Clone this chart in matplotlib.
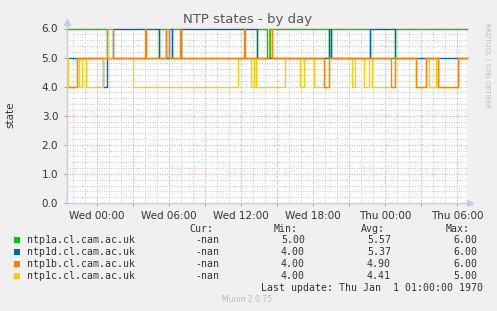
import matplotlib
matplotlib.use('Agg')
# Import matplotlib for plotting
import matplotlib.pyplot as plt
# Import Line2D / Rectangle for the hand drawn axis arrows and legend squares
from matplotlib.lines import Line2D
from matplotlib.patches import Rectangle

# Time axis in hours relative to Wed 00:00
t_start = -2.55
t_end = 30.8
tick_hours = [0, 6, 12, 18, 24, 30]
tick_labels = ['Wed 00:00', 'Wed 06:00', 'Wed 12:00', 'Wed 18:00', 'Thu 00:00', 'Thu 06:00']

# Step series: each value holds from its time until the next time
green_t = [-2.55, 0.81, 5.17, 5.75, 6.25, 6.96, 13.33, 14.14, 14.42, 19.33, 19.54, 22.75, 24.86, 30.8]
green_v = [6, 5, 6, 5, 6, 5, 6, 5, 6, 5, 6, 5, 6, 6]

blue_t = [-2.55, 0.475, 0.83, 1.31, 5.17, 6.0, 6.25, 7.0, 13.33, 19.33, 19.54, 22.75, 24.86, 30.8]
blue_v = [5, 4, 5, 6, 5, 6, 5, 6, 5, 6, 5, 6, 5, 5]

orange_t = [-2.55, -1.69, 0.86, 1.31, 4.0, 4.08, 5.78, 5.97, 6.94, 7.03, 12.23, 12.36, 14.31,
            14.58, 18.92, 19.33, 24.5, 24.86, 26.58, 27.42, 28.42, 30.08, 30.8]
orange_v = [4, 5, 6, 5, 6, 5, 6, 5, 6, 5, 6, 5, 6, 5, 4, 5, 4, 5, 4, 5, 4, 5, 5]

yellow_t = [-2.55, -2.45, -1.67, -1.5, -1.29, -0.96, 0.475, 2.96, 11.78, 12.86, 13.06, 13.29,
            15.67, 16.92, 17.25, 18.06, 19.33, 21.25, 21.53, 22.25, 22.71, 22.92, 24.86, 26.58,
            27.42, 27.71, 28.25, 28.42, 30.08, 30.8]
yellow_v = [5, 4, 5, 4, 5, 4, 5, 4, 5, 4, 5, 4, 5, 4, 5, 4, 5, 4, 5, 4, 5, 4, 5, 4, 5, 4, 5, 4, 5, 5]

# Legend table
names = ['ntp1a.cl.cam.ac.uk', 'ntp1d.cl.cam.ac.uk', 'ntp1b.cl.cam.ac.uk', 'ntp1c.cl.cam.ac.uk']
colors = ['#00cc00', '#0066b3', '#ff8000', '#ffcc00']
cur_vals = ['-nan', '-nan', '-nan', '-nan']
min_vals = [5.00, 4.00, 4.00, 4.00]
avg_vals = [5.57, 5.37, 4.90, 4.41]
max_vals = [6.00, 6.00, 6.00, 5.00]

W, H = 497, 311
fig = plt.figure(figsize=(W / 100, H / 100), dpi=100)
fig.patch.set_facecolor('#f0f0f0')

# Plot area (pixel box 66.5..466.5 x 28.5..203)
ax = fig.add_axes([66.5 / W, (H - 203) / H, 400 / W, 174.5 / H])
ax.set_facecolor('white')
ax.set_xlim(t_start, t_end)
ax.set_ylim(0, 6)

# Grid: minor gray every hour / 0.2, major red every 3 hours / 1.0
minor_style = dict(color='#c8c8c8', lw=0.7, dashes=(1, 1.5), zorder=1)
major_style = dict(color='#e89a9a', lw=0.7, dashes=(1, 1.5), zorder=1.5)
for h in range(-2, 31):
    ax.axvline(h, **(major_style if h % 3 == 0 else minor_style))
for i in range(1, 31):
    ax.axhline(i * 0.2, **(major_style if i % 5 == 0 else minor_style))

# Series lines (orange drawn last so it sits on top)
series = [(green_t, green_v, colors[0], 3), (blue_t, blue_v, colors[1], 4),
          (yellow_t, yellow_v, colors[3], 5), (orange_t, orange_v, colors[2], 6)]
for t, v, c, z in series:
    ax.step(t, v, where='post', color=c, lw=1.0, zorder=z, clip_on=False)

# Ticks and labels
ax.set_xticks([h for h in range(0, 31, 3)])
ax.set_xticklabels([tick_labels[tick_hours.index(h)] if h in tick_hours else '' for h in range(0, 31, 3)])
ax.set_yticks(range(7))
ax.set_yticklabels([f'{i:.1f}' for i in range(7)])
ax.tick_params(axis='x', length=2, width=0.7, color='#e08080', pad=4, labelsize=7.5, labelcolor='#333333')
ax.tick_params(axis='y', length=2, width=0.7, color='#e08080', pad=4, labelsize=7.5, labelcolor='#333333')
for s in ax.spines.values():
    s.set_visible(False)

# Axis lines with arrows
axis_col = '#c8c8f0'
fig.add_artist(Line2D([66.5 / W, 66.5 / W], [(H - 203) / H, (H - 24) / H], color=axis_col, lw=1))
fig.add_artist(Line2D([66.5 / W, 469 / W], [(H - 203) / H, (H - 203) / H], color=axis_col, lw=1))
fig.add_artist(Line2D([66.5 / W], [(H - 22) / H], marker='^', ms=4, color=axis_col, lw=0))
fig.add_artist(Line2D([470 / W], [(H - 203) / H], marker='>', ms=4, color=axis_col, lw=0))

# Titles
fig.text(248 / W, 1 - 19 / H, 'NTP states - by day', ha='center', va='center', fontsize=9.5, color='#555555')
fig.text(10 / W, 1 - 115 / H, 'state', ha='center', va='center', rotation=90, fontsize=7.5, color='#333333')
fig.text(487 / W, 1 - 66 / H, 'RRDTOOL / TOBI OETIKER', ha='center', va='center', rotation=270,
         fontsize=4.8, color='#bbbbbb')

# Legend table in monospace
mono = dict(family='DejaVu Sans Mono', fontsize=7.1, color='#333333', va='center')
header_y = 228.5
fig.text(213 / W, 1 - header_y / H, 'Cur:', ha='right', **mono)
fig.text(298 / W, 1 - header_y / H, 'Min:', ha='right', **mono)
fig.text(385 / W, 1 - header_y / H, 'Avg:', ha='right', **mono)
fig.text(470 / W, 1 - header_y / H, 'Max:', ha='right', **mono)
for i, name in enumerate(names):
    y = 240 + 12 * i
    fig.add_artist(Rectangle((14 / W, 1 - (y + 3) / H), 6 / W, 6 / H, color=colors[i], lw=0))
    fig.text(27 / W, 1 - y / H, name, ha='left', **mono)
    fig.text(219 / W, 1 - y / H, cur_vals[i], ha='right', **mono)
    fig.text(305 / W, 1 - y / H, f'{min_vals[i]:.2f}', ha='right', **mono)
    fig.text(391 / W, 1 - y / H, f'{avg_vals[i]:.2f}', ha='right', **mono)
    fig.text(477 / W, 1 - y / H, f'{max_vals[i]:.2f}', ha='right', **mono)
fig.text(483 / W, 1 - 288 / H, 'Last update: Thu Jan  1 01:00:00 1970', ha='right', **mono)
fig.text(247 / W, 1 - 300 / H, 'Munin 2.0.75', ha='center', va='center', fontsize=5.5, color='#bbbbbb')

fig.savefig('out.png', dpi=100, facecolor=fig.get_facecolor())
